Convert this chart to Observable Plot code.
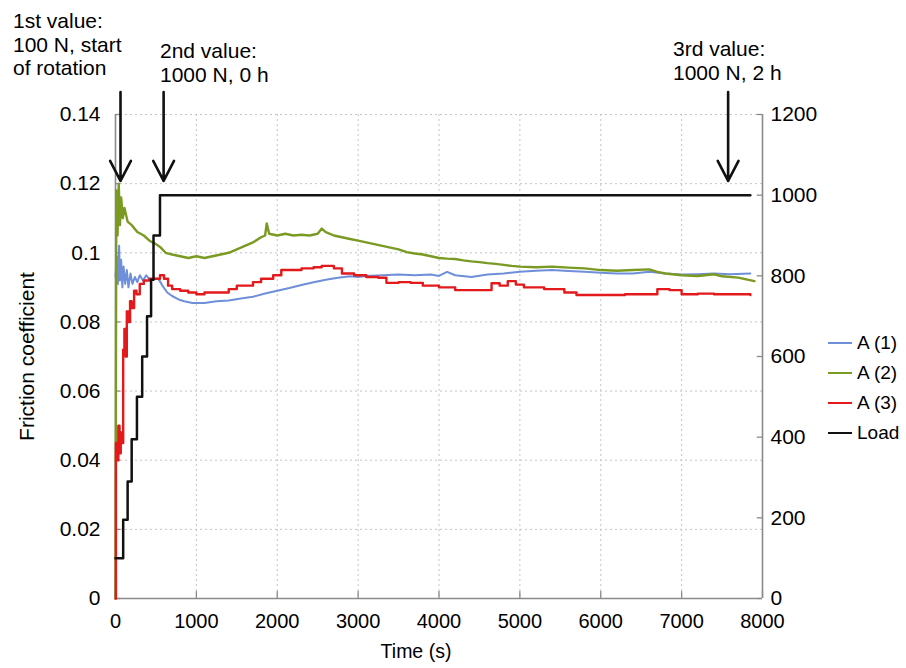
<!DOCTYPE html>
<html><head><meta charset="utf-8">
<script src="https://cdn.jsdelivr.net/npm/d3@7"></script>
<script src="https://cdn.jsdelivr.net/npm/@observablehq/plot@0.6"></script>
<style>
body{margin:0;background:#fff;font-family:"Liberation Sans",Arial,sans-serif;}
#wrap{position:relative;width:906px;height:668px;}
.note{position:absolute;font-size:21px;line-height:23.5px;color:#000;white-space:pre;}
.xlabel{position:absolute;left:316px;width:200px;top:640px;text-align:center;font-size:19.5px;color:#000;}
.legend{position:absolute;left:828px;top:328px;font-size:19px;color:#000;}
.legend div{display:flex;align-items:center;height:30px;}
.legend .sw{display:inline-block;width:24px;height:2.5px;margin-right:5px;}
</style></head><body><div id="wrap"></div>
<script>
// ---- data ----
const timeTicks = [0,1000,2000,3000,4000,5000,6000,7000,8000];
const frictionTicks = [0,0.02,0.04,0.06,0.08,0.1,0.12,0.14];
const loadTicks = [0,200,400,600,800,1000,1200];
const seriesNames = ["A (1)","A (2)","A (3)","Load"];
const seriesColors = ["#6f8fd8","#7a9a22","#e3191c","#111111"];
const arrowTimes = [62, 595, 7575];
const arrowLabels = ["1st value:\n100 N, start\nof rotation","2nd value:\n1000 N, 0 h","3rd value:\n1000 N, 2 h"];

// A (1) blue: [time s, friction]
const a1 = [[0,0.093],[15,0.099],[30,0.091],[45,0.102],[55,0.092],[70,0.098],[85,0.090],[100,0.096],[120,0.091],[140,0.095],[160,0.090],[185,0.094],[210,0.091],[240,0.093],[270,0.0915],[300,0.0935],[340,0.092],[380,0.0935],[430,0.092],[480,0.0925],[530,0.0925],[580,0.0905],[640,0.0885],[700,0.0875],[780,0.0865],[850,0.086],[950,0.0855],[1100,0.0855],[1250,0.086],[1400,0.0862],[1550,0.0868],[1700,0.0873],[1850,0.0882],[2000,0.089],[2150,0.0898],[2300,0.0907],[2450,0.0915],[2600,0.0922],[2750,0.0928],[2900,0.0932],[3000,0.093],[3100,0.0933],[3300,0.0935],[3500,0.0937],[3700,0.0935],[3900,0.0937],[4000,0.0933],[4100,0.0945],[4200,0.0935],[4400,0.093],[4600,0.0937],[4800,0.094],[5000,0.0945],[5200,0.0948],[5400,0.095],[5600,0.0947],[5800,0.0945],[6000,0.0942],[6200,0.094],[6400,0.094],[6600,0.0945],[6800,0.094],[7000,0.0937],[7200,0.0938],[7400,0.094],[7600,0.0938],[7850,0.094]];
// A (2) green
const a2 = [[0,0],[10,0.118],[25,0.105],[40,0.12],[55,0.108],[70,0.116],[90,0.11],[110,0.113],[150,0.109],[200,0.108],[270,0.106],[350,0.105],[420,0.1035],[500,0.1025],[560,0.1015],[620,0.1],[700,0.0995],[800,0.099],[900,0.0985],[1000,0.099],[1100,0.0985],[1200,0.099],[1300,0.0995],[1400,0.1],[1500,0.101],[1600,0.102],[1700,0.103],[1800,0.1045],[1850,0.105],[1870,0.1085],[1900,0.1055],[2000,0.105],[2100,0.1055],[2200,0.105],[2300,0.1052],[2400,0.105],[2500,0.1055],[2550,0.107],[2600,0.106],[2700,0.105],[2800,0.1045],[2900,0.104],[3000,0.1035],[3100,0.103],[3200,0.1025],[3300,0.102],[3400,0.1015],[3500,0.101],[3600,0.1002],[3700,0.0998],[3800,0.0995],[3900,0.099],[4000,0.0985],[4100,0.0983],[4200,0.0982],[4300,0.0978],[4400,0.0975],[4500,0.0973],[4600,0.097],[4700,0.0968],[4800,0.0965],[4900,0.0962],[5000,0.096],[5200,0.0958],[5400,0.096],[5600,0.0957],[5800,0.0955],[6000,0.095],[6200,0.0948],[6400,0.095],[6600,0.0952],[6700,0.0945],[6800,0.094],[7000,0.0935],[7200,0.0933],[7400,0.0938],[7500,0.0932],[7700,0.0928],[7900,0.0918]];
// A (3) red
const a3 = [[0,0],[5,0.045],[20,0.04],[35,0.05],[50,0.042],[65,0.048],[80,0.045],[95,0.072],[110,0.078],[125,0.07],[140,0.083],[160,0.08],[180,0.086],[200,0.084],[230,0.089],[260,0.088],[300,0.091],[350,0.092],[420,0.0925],[480,0.0925],[550,0.0935],[600,0.0925],[650,0.0905],[700,0.0895],[800,0.089],[900,0.0885],[1000,0.088],[1100,0.0885],[1300,0.0885],[1400,0.0895],[1500,0.0905],[1700,0.0915],[1800,0.0925],[1950,0.0935],[2050,0.095],[2300,0.0955],[2450,0.0958],[2550,0.0962],[2700,0.0955],[2800,0.094],[2950,0.0935],[3100,0.093],[3250,0.0928],[3350,0.0913],[3500,0.0915],[3650,0.0913],[3800,0.0905],[4000,0.09],[4200,0.0892],[4500,0.0892],[4650,0.0912],[4750,0.0905],[4850,0.0918],[4950,0.0908],[5050,0.09],[5300,0.0895],[5550,0.0885],[5700,0.0878],[6000,0.0878],[6300,0.088],[6600,0.088],[6700,0.0895],[6850,0.0892],[7000,0.088],[7200,0.0882],[7400,0.088],[7600,0.088],[7850,0.0878]];
// Load black: [time s, load N]
const load = [[0,100],[95,195],[150,290],[200,395],[265,500],[330,600],[390,700],[440,790],[470,900],[550,1000],[7850,1000]];

// ---- build ----
const FMAX = 0.14, LMAX = 1200;
const toF = v => v * FMAX / LMAX;
const fric = [a1,a2,a3].flatMap((arr,i)=>arr.map(([t,f])=>({t,f,s:seriesNames[i]})));
const loadRows = load.map(([t,v])=>({t,f:toF(v)}));
const axisGray = "#8a8a8a";

const plot = Plot.plot({
  width: 906, height: 668,
  marginLeft: 115, marginRight: 144, marginTop: 114, marginBottom: 70,
  style: {fontFamily: "Liberation Sans, Arial, sans-serif", fontSize: "21px", color: "#000", background: "transparent"},
  x: {domain: [0, 8000]},
  y: {domain: [0, FMAX]},
  color: {domain: seriesNames, range: seriesColors},
  marks: [
    Plot.gridX(timeTicks.filter(d => d > 0 && d < 8000), {stroke: "#c4c4c4", strokeOpacity: 1, strokeDasharray: "2,3"}),
    Plot.gridY(frictionTicks.filter(d => d > 0), {stroke: "#c4c4c4", strokeOpacity: 1, strokeDasharray: "2,3"}),
    Plot.axisX(timeTicks, {tickSize: 0, tickPadding: 15, fontSize: 20, tickFormat: d => String(d), label: null}),
    Plot.axisY(frictionTicks, {anchor: "left", tickSize: 0, tickPadding: 15, tickFormat: d => String(+d.toFixed(2)), label: "Friction coefficient", labelAnchor: "center", labelArrow: "none", labelOffset: 96}),
    Plot.axisY(loadTicks.map(toF), {anchor: "right", tickSize: 0, tickPadding: 8, tickFormat: d => String(Math.round(d * LMAX / FMAX)), label: null}),
    Plot.ruleY(frictionTicks, {y: d => d, x1: 0, x2: 65, stroke: axisGray, strokeWidth: 1.3}),
    Plot.ruleY(loadTicks.map(toF), {y: d => d, x1: 7935, x2: 8000, stroke: axisGray, strokeWidth: 1.3}),
    Plot.ruleX(timeTicks, {x: d => d, y1: 0, y2: 0.002, stroke: axisGray, strokeWidth: 1.3}),
    Plot.ruleX([0, 8000], {stroke: axisGray, strokeWidth: 1.6}),
    Plot.ruleY([0], {stroke: axisGray, strokeWidth: 1.6}),
    Plot.line(fric.filter(d => d.s === "A (1)"), {x: "t", y: "f", stroke: "s", strokeWidth: 2}),
    Plot.line(fric.filter(d => d.s === "A (2)"), {x: "t", y: "f", stroke: "s", strokeWidth: 2.4}),
    Plot.line(fric.filter(d => d.s === "A (3)"), {x: "t", y: "f", stroke: "s", strokeWidth: 2.4, curve: "step-after"}),
    Plot.line(loadRows, {x: "t", y: "f", stroke: seriesColors[3], strokeWidth: 2.5, curve: "step-after"}),
    Plot.arrow(arrowTimes, {x1: d => d, x2: d => d, y1: 0.1465, y2: 0.1208, stroke: "#111", strokeWidth: 2.6, headLength: 13, headAngle: 55})
  ]
});
const wrap = document.getElementById("wrap");
plot.style.position = "absolute"; plot.style.left = "0"; plot.style.top = "0";
wrap.appendChild(plot);

// annotations
const notePos = [[13, 9], [160, 39], [673, 37]];
arrowLabels.forEach((txt, i) => {
  const d = document.createElement("div");
  d.className = "note";
  d.style.left = notePos[i][0] + "px";
  d.style.top = notePos[i][1] + "px";
  d.textContent = txt;
  wrap.appendChild(d);
});
// x axis title
const xl = document.createElement("div");
xl.className = "xlabel"; xl.textContent = "Time (s)";
wrap.appendChild(xl);
// legend
const lg = document.createElement("div");
lg.className = "legend";
seriesNames.forEach((n, i) => {
  const r = document.createElement("div");
  const sw = document.createElement("span");
  sw.className = "sw"; sw.style.background = seriesColors[i];
  r.appendChild(sw);
  r.appendChild(document.createTextNode(n));
  lg.appendChild(r);
});
wrap.appendChild(lg);
</script>
</body></html>
